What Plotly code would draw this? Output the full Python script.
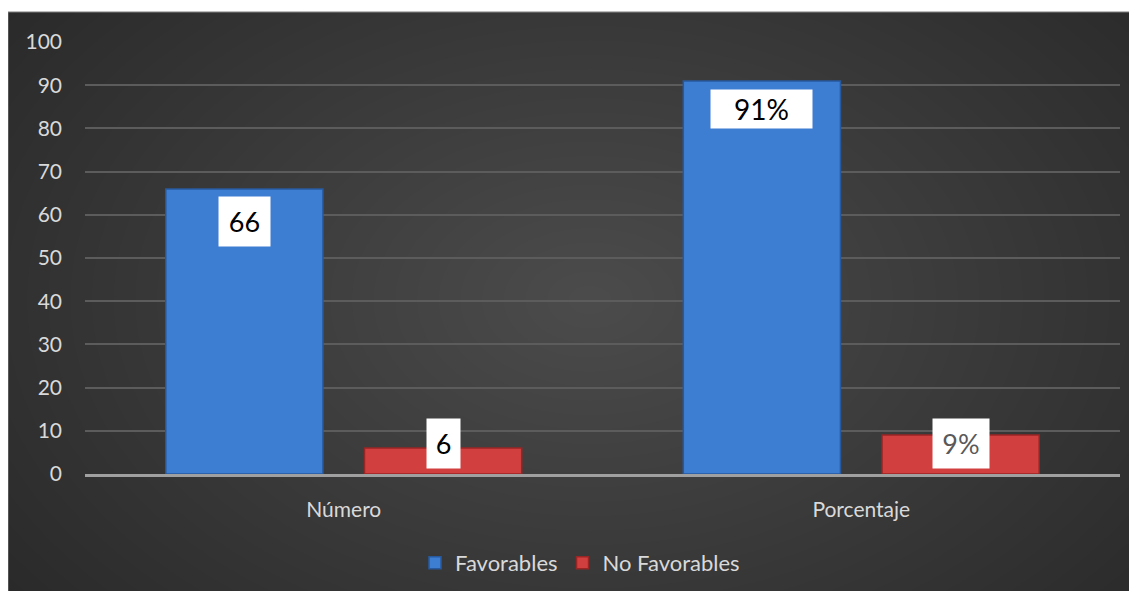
import plotly.graph_objects as go

categories = ["Número", "Porcentaje"]
series_names = ["Favorables", "No Favorables"]
favorables = [66, 91]
no_favorables = [6, 9]
label_text_fav = ["66", "91%"]
label_text_nofav = ["6", "9%"]
y_ticks = [0, 10, 20, 30, 40, 50, 60, 70, 80, 90, 100]

# page has an 8px body margin; figure coordinates = reference coordinates - 8
OFF = 8
W, H = 1137 - OFF, 591 - OFF
ML, MR, MT, MB = 77, 17, 34, 117
PW, PH = W - ML - MR, H - MT - MB

def px_x(x):
    return (x - OFF - ML) / PW

def px_y(y):
    return (H - MB - (y - OFF)) / PH

FONT = "Lato, Carlito, Calibri, sans-serif"
TXT = "#d9d9d9"

fig = go.Figure()
fig.add_trace(go.Bar(x=categories, y=favorables, name=series_names[0],
                     marker=dict(color="#3d7dd2", line=dict(color="#27599f", width=1.5))))
fig.add_trace(go.Bar(x=categories, y=no_favorables, name=series_names[1],
                     marker=dict(color="#d23f3f", line=dict(color="#9a2525", width=1.5))))

shapes = []
shapes.append(dict(type="rect", xref="paper", yref="paper", layer="below",
                   x0=px_x(8), x1=px_x(1145), y0=px_y(600), y1=px_y(12),
                   fillcolor="#272727", line=dict(width=1, color="#7a7a7a")))
# radial gradient approximation
cx, cy = 590, 300
n = 36
for i in range(n):
    f = 1 - i / n
    rx, ry = 780 * f, 520 * f
    shapes.append(dict(type="circle", xref="paper", yref="paper", layer="below",
                       x0=px_x(cx - rx), x1=px_x(cx + rx),
                       y0=px_y(cy + ry), y1=px_y(cy - ry),
                       fillcolor="rgba(255,255,255,0.0078)", line=dict(width=0)))

annotations = []
offset = 0.192
label_styles = [
    # (yanchor, yshift, textcolor, fontsize, width, borderpad)
    [("top", -7, "black", 27, 35, 8), ("top", -8, "black", 28, 97, 2)],
    [("middle", 5, "black", 27, 17, 8), ("middle", -8, "#595959", 27, 40, 8)],
]
for s, (vals, texts) in enumerate([(favorables, label_text_fav), (no_favorables, label_text_nofav)]):
    for c, (v, t) in enumerate(zip(vals, texts)):
        ya, ys, col, fs, wd, bp = label_styles[s][c]
        annotations.append(dict(
            x=c + (-offset if s == 0 else offset), y=v, xref="x", yref="y",
            text=t, showarrow=False, yanchor=ya, yshift=ys,
            bgcolor="white", borderpad=bp, width=wd,
            font=dict(family=FONT, size=fs, color=col)))

fig.update_layout(
    width=W, height=H,
    margin=dict(l=ML, r=MR, t=MT, b=MB, autoexpand=False),
    paper_bgcolor="white", plot_bgcolor="rgba(0,0,0,0)",
    barmode="group", bargap=0.232, bargroupgap=0.209,
    font=dict(family=FONT, color=TXT),
    shapes=shapes, annotations=annotations,
    showlegend=True,
    legend=dict(orientation="h", x=px_x(580), xanchor="center", y=px_y(563), yanchor="middle",
                font=dict(family=FONT, size=22, color=TXT), bgcolor="rgba(0,0,0,0)",
                itemwidth=30, traceorder="normal"),
    xaxis=dict(type="category", showgrid=False, showline=True, linecolor="#a0a0a0", linewidth=3,
               ticks="", tickfont=dict(family=FONT, size=21, color=TXT), ticklabelstandoff=15,
               automargin=False),
    yaxis=dict(range=[0, 100], tickvals=y_ticks, showgrid=True, gridcolor="#5c5c5c", gridwidth=1.5,
               zeroline=False, ticks="", tickfont=dict(family=FONT, size=21, color=TXT),
               ticklabelstandoff=22, automargin=False),
)

fig.write_html("out.html")
